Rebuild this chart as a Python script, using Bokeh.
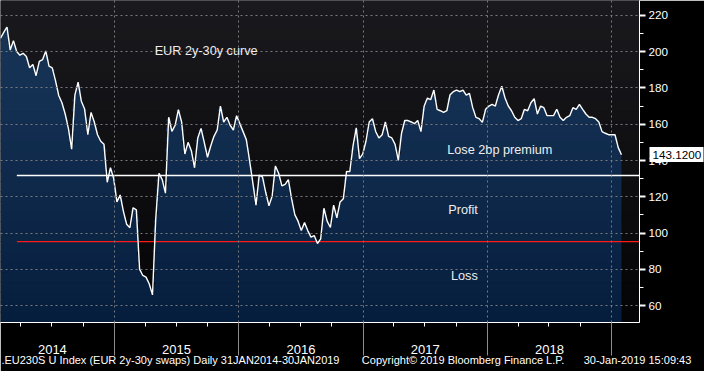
import numpy as np
import pandas as pd
from bokeh.plotting import figure
from bokeh.models import (Range1d, FixedTicker, Label, BoxAnnotation, CustomJSTickFormatter,
                          DatetimeAxis, DatetimeTickFormatter, LinearAxis, NumeralTickFormatter)
from bokeh.embed import file_html
from bokeh.resources import INLINE

# ---------------- data ----------------
start_date = "2014-01-31"
end_date = "2019-01-30"
spread_bp = [
    207.3, 210.5, 213.5, 200.8, 206.0, 200.0, 198.0, 199.0, 197.3, 191.1,
    192.9, 186.7, 194.6, 195.5, 200.3, 192.0, 191.0, 184.0, 175.8, 171.8,
    165.6, 157.6, 146.2, 176.0, 183.2, 172.6, 168.3, 154.2, 166.5, 161.2,
    154.2, 150.6, 148.9, 128.0, 136.0, 130.0, 117.2, 121.0, 112.0, 104.9,
    103.0, 114.0, 112.8, 80.2, 76.7, 75.8, 72.0, 66.0, 108.0, 133.0,
    129.5, 122.0, 163.8, 156.0, 159.4, 168.0, 161.2, 143.6, 150.0, 145.4,
    136.0, 152.4, 157.7, 150.0, 141.8, 148.0, 153.3, 156.8, 170.0, 161.2,
    163.8, 159.4, 156.8, 164.7, 160.3, 155.9, 151.5, 140.1, 128.0, 115.4,
    132.0, 131.0, 122.5, 115.0, 120.5, 137.0, 133.0, 126.0, 126.9, 129.5,
    119.0, 110.2, 106.6, 101.4, 105.8, 101.4, 97.8, 98.7, 94.3, 96.9,
    113.7, 106.6, 103.1, 115.4, 108.4, 117.2, 118.9, 134.0, 133.9, 148.0,
    158.0, 141.0, 143.6, 150.6, 161.2, 163.0, 156.0, 152.4, 154.2, 161.2,
    153.3, 152.4, 148.9, 140.1, 155.0, 162.0, 162.0, 161.2, 160.3, 162.0,
    155.9, 170.0, 174.4, 173.5, 178.8, 168.2, 167.4, 166.5, 167.4, 176.2,
    177.9, 178.8, 177.9, 178.8, 176.0, 177.0, 169.1, 163.8, 163.0, 161.0,
    168.2, 170.0, 170.9, 170.0, 176.2, 180.9, 174.4, 170.0, 167.4, 163.8,
    162.0, 163.0, 168.2, 167.4, 171.8, 174.0, 165.6, 170.0, 169.1, 164.7,
    164.7, 164.7, 168.2, 163.8, 162.0, 163.8, 164.7, 169.1, 168.2, 170.9,
    168.2, 165.6, 163.8, 163.8, 163.0, 161.2, 155.9, 155.0, 154.2, 154.2,
    154.2, 147.1, 143.12,
]
last_value = 143.12
breakeven_level = 131.8   # white line: lose 2bp premium / profit boundary
loss_level = 95.3         # red line: profit / loss boundary
levels_start = "2014-03-20"
years = [2014, 2015, 2016, 2017, 2018]
y_ticks = [60, 80, 100, 120, 140, 160, 180, 200, 220]
y_minor = [50, 70, 90, 110, 130, 150, 170, 190, 210, 230]
footer_texts = [".EU230S U Index (EUR 2y-30y swaps)  Daily 31JAN2014-30JAN2019",
                "Copyright\u00a9 2019 Bloomberg Finance L.P.",
                "30-Jan-2019 15:09:43"]

# ---------------- helpers ----------------
def ms(d):
    return pd.Timestamp(d).value / 1e6

def mix(c0, c1, t):
    return "#%02x%02x%02x" % tuple(int(round(a + (b - a) * t)) for a, b in zip(c0, c1))

dates = pd.date_range(start_date, end_date, periods=len(spread_bp))
vals = np.array(spread_bp)

Y0, Y1 = 50.8, 228.1
W, H = 704, 371
RB, BB = 63, 49            # right / bottom panel sizes
FW = W - RB                # frame width
FONT = "Liberation Sans"

p = figure(width=W, height=H, x_axis_type="datetime", y_axis_location="right",
           x_range=Range1d(pd.Timestamp(start_date).to_pydatetime(),
                           pd.Timestamp("2019-03-24").to_pydatetime()),
           y_range=Range1d(Y0, Y1),
           output_backend="svg", toolbar_location=None,
           min_border_left=0, min_border_top=0, min_border_right=RB, min_border_bottom=BB)
p.border_fill_color = "black"
p.background_fill_color = "#101013"
p.outline_line_color = None

# background vertical gradient
nb = 32
edges = np.linspace(Y0, Y1, nb + 1)
bg_bottom, bg_top = (4, 4, 6), (26, 26, 30)
area_bottom, area_top = (6, 30, 62), (25, 55, 90)
for i in range(nb):
    t = (i + 0.5) / nb
    p.add_layout(BoxAnnotation(bottom=edges[i], top=edges[i + 1] + 0.4,
                               fill_color=mix(bg_bottom, bg_top, t), fill_alpha=1.0,
                               line_color=None, level="underlay"))

# area under the curve, as gradient bands
for i in range(nb):
    t = (i + 0.5) / nb
    lo, hi = edges[i], edges[i + 1]
    p.varea(x=dates, y1=lo, y2=np.clip(vals, lo, hi + 0.4),
            fill_color=mix(area_bottom, area_top, t), fill_alpha=1.0)

# level lines
p.ray(x=[pd.Timestamp(levels_start)], y=[loss_level], length=0, angle=0,
      line_color="#ff1a1a", line_width=1.2)
p.ray(x=[pd.Timestamp(levels_start)], y=[breakeven_level], length=0, angle=0,
      line_color="white", line_width=1.5)

# curve
p.line(dates, vals, line_color="white", line_width=1.4)

# tick positions
year_bounds = [ms(f"{y + 1}-01-01") for y in years]
mid_years = [(ms(f"{y}-01-01") + ms(f"{y + 1}-01-01")) / 2 for y in years]
quarters = [ms(d) for d in pd.date_range("2014-01-01", "2019-04-01", freq="QS") if d.month != 1]
yticker = FixedTicker(ticks=y_ticks, minor_ticks=y_minor)

# grid
for g in (p.xgrid, p.ygrid):
    g.grid_line_color = "#7a7a7e"
    g.grid_line_dash = "2 3"
    g.grid_line_width = 1
    g.level = "guide"
p.xgrid.ticker = FixedTicker(ticks=year_bounds)
p.ygrid.ticker = yticker

# x axis A: axis line, short quarterly ticks, long separators at year boundaries
xa = p.xaxis[0]
xa.ticker = FixedTicker(ticks=quarters, minor_ticks=year_bounds)
xa.formatter = CustomJSTickFormatter(code="return ''")
xa.axis_line_color = "white"
xa.major_tick_in = 0
xa.major_tick_out = 4
xa.major_tick_line_color = "white"
xa.minor_tick_in = 0
xa.minor_tick_out = 33
xa.minor_tick_line_color = "#8c8c8c"
xa.major_label_standoff = 0
xa.major_label_text_font_size = "1px"

# x axis B: year labels centred in each year (pulled up next to the separators)
xb = DatetimeAxis(ticker=FixedTicker(ticks=mid_years, minor_ticks=[]),
                  formatter=DatetimeTickFormatter(years="%Y", months="%Y", days="%Y"))
xb.axis_line_color = None
xb.major_tick_out = 0
xb.major_tick_in = 0
xb.major_tick_line_color = None
xb.minor_tick_line_color = None
xb.major_label_standoff = -11
xb.major_label_text_color = "white"
xb.major_label_text_font = FONT
xb.major_label_text_font_size = "13px"
p.add_layout(xb, "below")

# x axis C: footer strip
p.extra_x_ranges = {"strip": Range1d(0, FW)}
xc = LinearAxis(x_range_name="strip",
                ticker=FixedTicker(ticks=[172, 464, 639]),
                major_label_overrides={172: footer_texts[0], 464: footer_texts[1], 639: footer_texts[2]})
xc.axis_line_color = None
xc.major_tick_out = 0
xc.major_tick_in = 0
xc.major_tick_line_color = None
xc.minor_tick_line_color = None
xc.major_label_standoff = -3
xc.major_label_text_color = "white"
xc.major_label_text_font = FONT
xc.major_label_text_font_size = "11px"
p.add_layout(xc, "below")

# y axis (right)
ya = p.yaxis[0]
ya.ticker = yticker
ya.axis_line_color = "white"
ya.major_tick_in = 0
ya.major_tick_out = 6
ya.major_tick_line_width = 2
ya.major_tick_line_color = "white"
ya.minor_tick_in = 0
ya.minor_tick_out = 4
ya.minor_tick_line_color = "white"
ya.major_label_standoff = 3
ya.major_label_text_color = "white"
ya.major_label_text_font = FONT
ya.major_label_text_font_size = "11.7px"

# last value tag (white box made from a thick tick, black text)
yp = LinearAxis(ticker=FixedTicker(ticks=[last_value]),
                formatter=NumeralTickFormatter(format="0.0000"))
yp.axis_line_color = None
yp.major_tick_in = 22
yp.major_tick_out = 32
yp.major_tick_line_width = 15
yp.major_tick_line_color = "white"
yp.minor_tick_line_color = None
yp.major_label_standoff = -51
yp.major_label_text_color = "black"
yp.major_label_text_font = FONT
yp.major_label_text_font_size = "11.7px"
p.add_layout(yp, "right")

# chart annotations
ann = dict(text_color="#eeeeee", text_font=FONT, text_font_size="12.7px",
           text_baseline="middle", text_align="left")
p.add_layout(Label(x=ms("2015-04-29"), y=200.1, text="EUR 2y-30y curve", **ann))
p.add_layout(Label(x=ms("2017-09-05"), y=145.7, text="Lose 2bp premium", **ann))
p.add_layout(Label(x=ms("2017-09-08"), y=113.0, text="Profit", **ann))
p.add_layout(Label(x=ms("2017-09-16"), y=76.6, text="Loss", **ann))

open("out.html", "w").write(file_html(p, INLINE))
